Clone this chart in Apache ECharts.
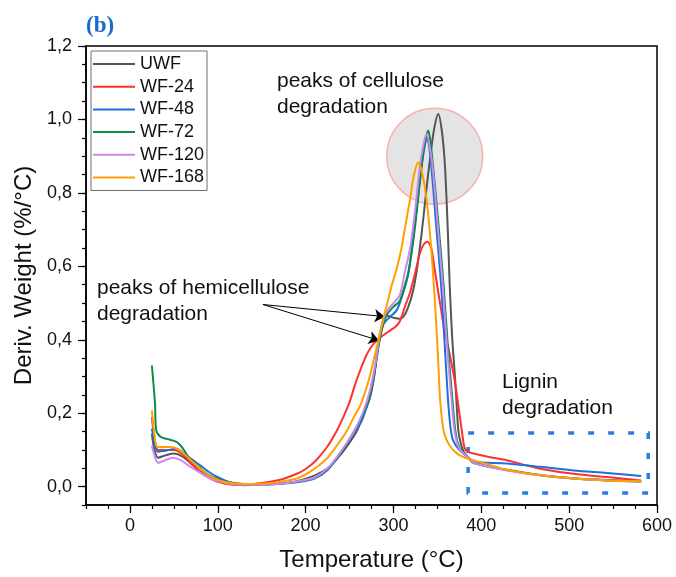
<!DOCTYPE html>
<html>
<head>
<meta charset="utf-8">
<script src="https://cdn.jsdelivr.net/npm/echarts@6/dist/echarts.min.js"></script>
<style>
html,body{margin:0;padding:0;background:#fff;}
#chart{width:676px;height:577px;}
</style>
</head>
<body>
<div id="chart"></div>
<script>
// ---------- DATA ----------
const seriesNames = ['UWF', 'WF-24', 'WF-48', 'WF-72', 'WF-120', 'WF-168'];

// [Temperature (°C), Deriv. Weight (%/°C)]
const uwf = [[25,0.144],[28,0.1],[32,0.079],[40,0.085],[50,0.09],[60,0.082],[70,0.062],[80,0.042],[90,0.027],[100,0.016],[115,0.007],[130,0.004],[150,0.005],[170,0.008],[190,0.015],[210,0.03],[225,0.05],[239,0.085],[250,0.12],[258,0.15],[265,0.19],[273,0.24],[278,0.3],[282,0.375],[287,0.43],[292,0.466],[300,0.46],[307,0.457],[312,0.465],[317,0.49],[322,0.53],[326,0.58],[330,0.65],[333.5,0.72],[338,0.82],[341.5,0.89],[346,0.97],[351,1.015],[355,0.97],[358.6,0.874],[362,0.69],[364,0.55],[367,0.4],[370,0.3],[372,0.22],[374,0.15],[377,0.115],[380,0.095],[385,0.08],[391,0.068],[400,0.06],[429,0.046],[467,0.032],[505,0.023],[543,0.018],[582,0.015]];
const wf24 = [[25,0.19],[28,0.13],[32,0.1],[40,0.1],[50,0.1],[60,0.088],[70,0.063],[80,0.04],[90,0.024],[100,0.013],[115,0.006],[130,0.005],[150,0.01],[170,0.018],[190,0.035],[200,0.048],[212,0.072],[225,0.11],[235,0.15],[243,0.19],[250,0.23],[258,0.29],[269,0.357],[276,0.385],[283,0.402],[290,0.415],[296,0.425],[302,0.435],[307,0.449],[313,0.49],[319,0.53],[324,0.575],[330,0.635],[334,0.658],[338.5,0.667],[343,0.65],[347,0.59],[353,0.5],[358.6,0.42],[364,0.36],[370,0.285],[375,0.2],[378,0.15],[381,0.105],[385,0.095],[391,0.09],[410,0.08],[429,0.072],[448,0.06],[467,0.049],[505,0.035],[543,0.026],[582,0.017]];
const wf48 = [[25,0.158],[28,0.12],[32,0.095],[40,0.098],[53,0.103],[62,0.09],[70,0.075],[80,0.058],[90,0.04],[99,0.027],[110,0.015],[120,0.009],[135,0.006],[150,0.006],[170,0.008],[190,0.012],[210,0.022],[225,0.045],[242.5,0.1],[253,0.14],[264,0.18],[271,0.23],[277,0.29],[282,0.37],[285,0.41],[288,0.44],[295,0.46],[303.6,0.48],[310,0.52],[317,0.58],[322,0.67],[326,0.75],[332,0.87],[335,0.92],[338,0.95],[341,0.92],[345,0.82],[349,0.7],[354,0.557],[358,0.4],[362,0.24],[365,0.16],[368,0.125],[375,0.1],[385,0.08],[391,0.068],[429,0.063],[467,0.054],[505,0.044],[543,0.037],[582,0.029]];
const wf72 = [[25,0.33],[28.5,0.228],[30,0.153],[35,0.135],[42,0.13],[53,0.122],[60,0.105],[68,0.076],[80,0.05],[91,0.03],[104,0.018],[117,0.01],[135,0.006],[150,0.006],[170,0.008],[190,0.013],[210,0.024],[225,0.048],[240,0.092],[255,0.15],[265,0.195],[273,0.25],[279,0.32],[284,0.4],[288,0.44],[293,0.47],[300,0.49],[307,0.505],[312,0.54],[317,0.585],[322,0.66],[326,0.738],[332,0.874],[336,0.94],[339.6,0.97],[342,0.94],[346,0.85],[351,0.72],[357,0.55],[362,0.38],[367,0.24],[370,0.16],[373,0.12],[378,0.095],[385,0.08],[391,0.064],[429,0.045],[467,0.031],[505,0.022],[543,0.017],[582,0.014]];
const wf120 = [[25,0.112],[28,0.085],[32,0.065],[40,0.072],[49,0.079],[58,0.072],[68,0.055],[80,0.038],[90,0.024],[100,0.015],[115,0.008],[130,0.005],[150,0.005],[170,0.008],[190,0.014],[210,0.025],[225,0.05],[240,0.095],[255,0.15],[265,0.2],[273,0.26],[279,0.33],[284,0.41],[288,0.45],[292,0.476],[300,0.5],[307,0.52],[313,0.585],[319,0.65],[324,0.74],[330,0.87],[334,0.93],[337.6,0.96],[341,0.93],[345,0.86],[350,0.72],[356,0.55],[361,0.38],[366,0.24],[369,0.16],[372,0.122],[376,0.1],[385,0.08],[391,0.065],[429,0.044],[467,0.031],[505,0.022],[543,0.017],[582,0.014]];
const wf168 = [[25,0.208],[28,0.14],[31,0.108],[38,0.108],[45.5,0.108],[57,0.099],[68,0.075],[80,0.049],[90,0.03],[102,0.017],[115,0.01],[125,0.008],[140,0.007],[160,0.01],[175,0.015],[190,0.022],[205,0.04],[224,0.076],[235,0.11],[246.5,0.15],[255,0.19],[262,0.22],[268,0.26],[273,0.3],[278,0.35],[282,0.39],[287,0.445],[292,0.49],[298,0.548],[303.6,0.593],[309,0.648],[315,0.73],[319,0.784],[323,0.845],[328,0.883],[332,0.86],[337.6,0.784],[343,0.648],[347,0.51],[349,0.43],[351,0.34],[353,0.24],[356.6,0.158],[360,0.13],[364,0.112],[370,0.095],[375.6,0.085],[387,0.074],[400,0.066],[429,0.046],[467,0.031],[505,0.022],[543,0.017],[582,0.015]];

const xTicks = [0, 100, 200, 300, 400, 500, 600];
const yTicks = [0, 0.2, 0.4, 0.6, 0.8, 1.0, 1.2];

// annotation anchors (data coordinates)
const arrowStart = [151.4, 0.496];
const arrowEnds = [[290, 0.463], [283.5, 0.398]];
const ligninBox = [[385, 0.146], [590, -0.017]];
const cellulosePeakCenter = [347, 0.9];

// ---------- STYLE ----------
const colors = ['#555555', '#ff3030', '#1f6fd6', '#0b8a48', '#cc88ee', '#ffa000'];
const FONT = '"Liberation Sans", Arial, sans-serif';

const dataList = [uwf, wf24, wf48, wf72, wf120, wf168];

const chart = echarts.init(document.getElementById('chart'), null, {renderer: 'canvas'});

const series = dataList.map((d, i) => ({
  name: seriesNames[i],
  type: 'line',
  data: d,
  xAxisIndex: 0,
  yAxisIndex: 0,
  symbol: 'none',
  smooth: 0.3,
  lineStyle: {color: colors[i], width: 2},
  itemStyle: {color: colors[i]},
  z: 3 + i
}));

series[0].markArea = {
  silent: true,
  itemStyle: {color: 'rgba(0,0,0,0)', borderColor: '#2a7de6', borderWidth: 3.5, borderType: [6, 14]},
  label: {show: false},
  data: [[{coord: ligninBox[0]}, {coord: ligninBox[1]}]]
};
series[5].markLine = {
  silent: true,
  symbol: ['none', 'arrow'],
  symbolSize: 10,
  lineStyle: {color: '#000', width: 1, type: 'solid'},
  label: {show: false},
  animation: false,
  data: arrowEnds.map(e => [{coord: arrowStart}, {coord: e}])
};

const option = {
  animation: false,
  backgroundColor: '#fff',
  grid: {left: 86, right: 19, top: 46, bottom: 72, show: true, borderColor: '#000', borderWidth: 1.5, backgroundColor: 'rgba(0,0,0,0)'},
  legend: {
    orient: 'vertical', left: 91, top: 51,
    data: seriesNames,
    icon: 'rect',
    itemWidth: 42, itemHeight: 2, itemGap: 2.7,
    padding: [3, 3, 3, 2],
    borderColor: '#6e6e6e', borderWidth: 1,
    textStyle: {fontFamily: FONT, fontSize: 18, color: '#111', lineHeight: 20}
  },
  xAxis: [{
    type: 'value', min: -50, max: 600, interval: 25,
    name: 'Temperature (°C)', nameLocation: 'middle', nameGap: 43,
    nameTextStyle: {fontFamily: FONT, fontSize: 24, color: '#111'},
    axisLine: {show: true, onZero: false, lineStyle: {color: '#000', width: 1.5}},
    axisTick: {show: true, length: 8, customValues: xTicks, lineStyle: {color: '#000', width: 1.2}},
    axisLabel: {customValues: xTicks, fontFamily: FONT, fontSize: 18, color: '#111', margin: 12,
      formatter: v => (Math.round(v) % 100 === 0 ? String(Math.round(v)) : '')},
    splitLine: {show: false}
  }, {
    type: 'value', min: -50, max: 600, interval: 25, position: 'bottom',
    axisLine: {show: false, onZero: false}, axisLabel: {show: false}, splitLine: {show: false},
    axisTick: {show: true, length: 4, lineStyle: {color: '#000', width: 1.2}}
  }],
  yAxis: [{
    type: 'value', min: -0.05, max: 1.2, interval: 0.05,
    name: 'Deriv. Weight (%/°C)', nameLocation: 'middle', nameGap: 47,
    nameTextStyle: {fontFamily: FONT, fontSize: 24, color: '#111'},
    axisLine: {show: true, onZero: false, lineStyle: {color: '#000', width: 1.5}},
    axisTick: {show: true, length: 8, customValues: yTicks, lineStyle: {color: '#000', width: 1.2}},
    axisLabel: {customValues: yTicks, fontFamily: FONT, fontSize: 18, color: '#111', margin: 14,
      formatter: v => {
        const r = Math.round(v * 100);
        if (r % 20 !== 0) return '';
        return (r / 100).toFixed(1).replace('.', ',');
      }},
    splitLine: {show: false}
  }, {
    type: 'value', min: -0.05, max: 1.2, interval: 0.05, position: 'left',
    axisLine: {show: false, onZero: false}, axisLabel: {show: false}, splitLine: {show: false},
    axisTick: {show: true, length: 4, lineStyle: {color: '#000', width: 1.2}}
  }],
  series: series
};

chart.setOption(option);

const c = chart.convertToPixel({gridIndex: 0}, cellulosePeakCenter);
const textStyle = (t) => ({text: t, fontFamily: FONT, fontSize: 21, fill: '#111', lineHeight: 26});
chart.setOption({
  graphic: [
    {type: 'circle', shape: {cx: c[0], cy: c[1], r: 48}, z: 1, silent: true,
     style: {fill: 'rgba(195,195,195,0.45)', stroke: 'rgba(255,140,140,0.65)', lineWidth: 1.5}},
    {type: 'text', left: 86, top: 15, z: 10, silent: true,
     style: {text: '(b)', fontFamily: '"Liberation Serif", "Times New Roman", serif', fontWeight: 'bold', fontSize: 23, fill: '#1a6ac7'}},
    {type: 'text', left: 277, top: 68, z: 10, silent: true, style: textStyle('peaks of cellulose\ndegradation')},
    {type: 'text', left: 97, top: 275, z: 10, silent: true, style: textStyle('peaks of hemicellulose\ndegradation')},
    {type: 'text', left: 502, top: 369, z: 10, silent: true, style: textStyle('Lignin\ndegradation')}
  ]
});
</script>
</body>
</html>
